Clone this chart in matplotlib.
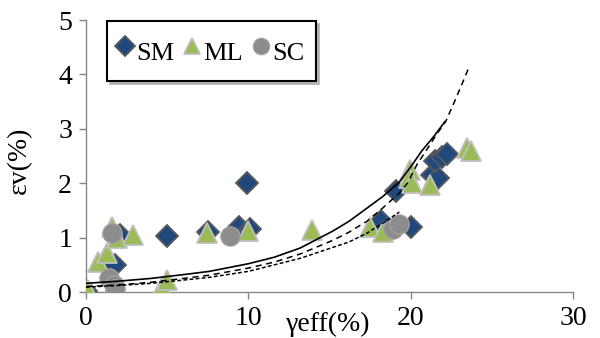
import numpy as np
import matplotlib
matplotlib.use("Agg")
import matplotlib.pyplot as plt
import matplotlib.ticker as tick

plt.rcParams['font.family'] = ['Liberation Serif', 'DejaVu Serif']

# measured points, shear strain vs volumetric strain
sm_x = [0.0, 1.8, 2.1, 5.0, 7.5, 9.4, 10.1, 9.9, 18.2, 20.05, 19.1, 21.3, 21.7, 21.5, 21.9, 22.25]
sm_y = [0.02, 0.5, 1.05, 1.03, 1.1, 1.2, 1.15, 2.0, 1.3, 1.2, 1.86, 2.15, 2.09, 2.4, 2.49, 2.54]

ml_x = [0.1, 0.75, 1.3, 1.6, 1.9, 2.9, 4.7, 5.0, 7.45, 10.0, 13.9, 17.5, 18.3, 19.95, 19.9, 20.1, 21.2, 23.5, 23.7]
ml_y = [0.04, 0.55, 0.72, 1.2, 0.99, 1.05, 0.09, 0.22, 1.08, 1.13, 1.14, 1.2, 1.1, 2.25, 2.1, 2.0, 1.97, 2.65, 2.6]

sc_x = [1.6, 8.9, 1.4, 1.7, 1.8, 18.9, 19.3]
sc_y = [1.08, 1.03, 0.25, 0.13, 0.05, 1.15, 1.25]

# trend curves
fit1_x = [0, 2, 4, 6, 7.6, 10, 11.6, 13.2, 15.2, 16.2, 17.3, 18.3, 19.3, 20.0, 20.7, 21.4, 22.1]
fit1_y = [0.16, 0.2, 0.25, 0.32, 0.38, 0.52, 0.64, 0.81, 1.12, 1.3, 1.54, 1.76, 2.02, 2.3, 2.6, 2.85, 3.13]

fit2_x = [0, 2, 4, 6, 7.6, 10, 11.6, 13.2, 15.2, 16.2, 17.3, 18.3, 19.3, 19.8, 20.4, 21.0, 21.6, 22.15, 22.7, 23.2, 23.6]
fit2_y = [0.1, 0.13, 0.18, 0.25, 0.31, 0.44, 0.55, 0.7, 0.95, 1.1, 1.3, 1.55, 1.82, 2.0, 2.35, 2.62, 2.9, 3.13, 3.5, 3.85, 4.14]

fit3_x = [0, 2, 4, 6, 7.6, 10, 11.6, 13.2, 15.2, 16.2, 17.3, 18.3, 19.3]
fit3_y = [0.09, 0.12, 0.16, 0.22, 0.27, 0.38, 0.5, 0.62, 0.82, 0.92, 1.08, 1.27, 1.47]

fig = plt.figure(figsize=(6, 3.38), dpi=100)
ax = fig.add_axes([0.1433, 0.136, 0.8117, 0.8047])

ax.plot(sm_x, sm_y, linestyle='none', marker='D', markersize=11.5,
        markerfacecolor='#1F497D', markeredgecolor='#595959', markeredgewidth=1.3, label='SM', zorder=3)
ax.plot(ml_x, ml_y, linestyle='none', marker='^', markersize=14,
        markerfacecolor='#9BBB59', markeredgecolor='#BFBFBF', markeredgewidth=1.3, label='ML', zorder=4)
ax.plot(sc_x, sc_y, linestyle='none', marker='o', markersize=14,
        markerfacecolor='#8C8C8C', markeredgecolor='#A6A6A6', markeredgewidth=0.8, label='SC', zorder=5)

ax.plot(fit1_x, fit1_y, color='black', lw=1.2, zorder=6)
ax.plot(fit2_x, fit2_y, color='black', lw=1.1, linestyle=(0, (4, 3)), zorder=6)
ax.plot(fit3_x, fit3_y, color='black', lw=1.1, linestyle=(0, (2.5, 1.5)), zorder=6)

ax.set_xlim(0, 30)
ax.set_ylim(0, 5)
ax.xaxis.set_major_locator(tick.MultipleLocator(10))
ax.yaxis.set_major_locator(tick.MultipleLocator(1))

for s in ['top', 'right']:
    ax.spines[s].set_visible(False)
for s in ['left', 'bottom']:
    ax.spines[s].set_color('#868686')
    ax.spines[s].set_linewidth(1.0)
ax.tick_params(direction='out', length=5, width=1.0, color='#868686', labelsize=20, pad=5)
ax.set_clip_on(False)

ax.text(0.497, -0.12, 'γeff(%)', transform=ax.transAxes, ha='center', va='center', fontsize=20)
ax.text(-0.136, 0.485, 'εv(%)', transform=ax.transAxes, ha='center', va='center', rotation=90, fontsize=20)

leg = ax.legend(loc='upper left', bbox_to_anchor=(0.043, 0.996), ncol=3, fontsize=19,
                handlelength=0.45, handleheight=1.75, handletextpad=0.2, columnspacing=0.45,
                borderpad=0.45, borderaxespad=0, markerscale=0.85, frameon=True, fancybox=False,
                shadow={'color': '#999999', 'alpha': 0.6})
leg.get_frame().set_edgecolor('black')
leg.get_frame().set_linewidth(1.5)

fig.savefig('out.png', dpi=100)
